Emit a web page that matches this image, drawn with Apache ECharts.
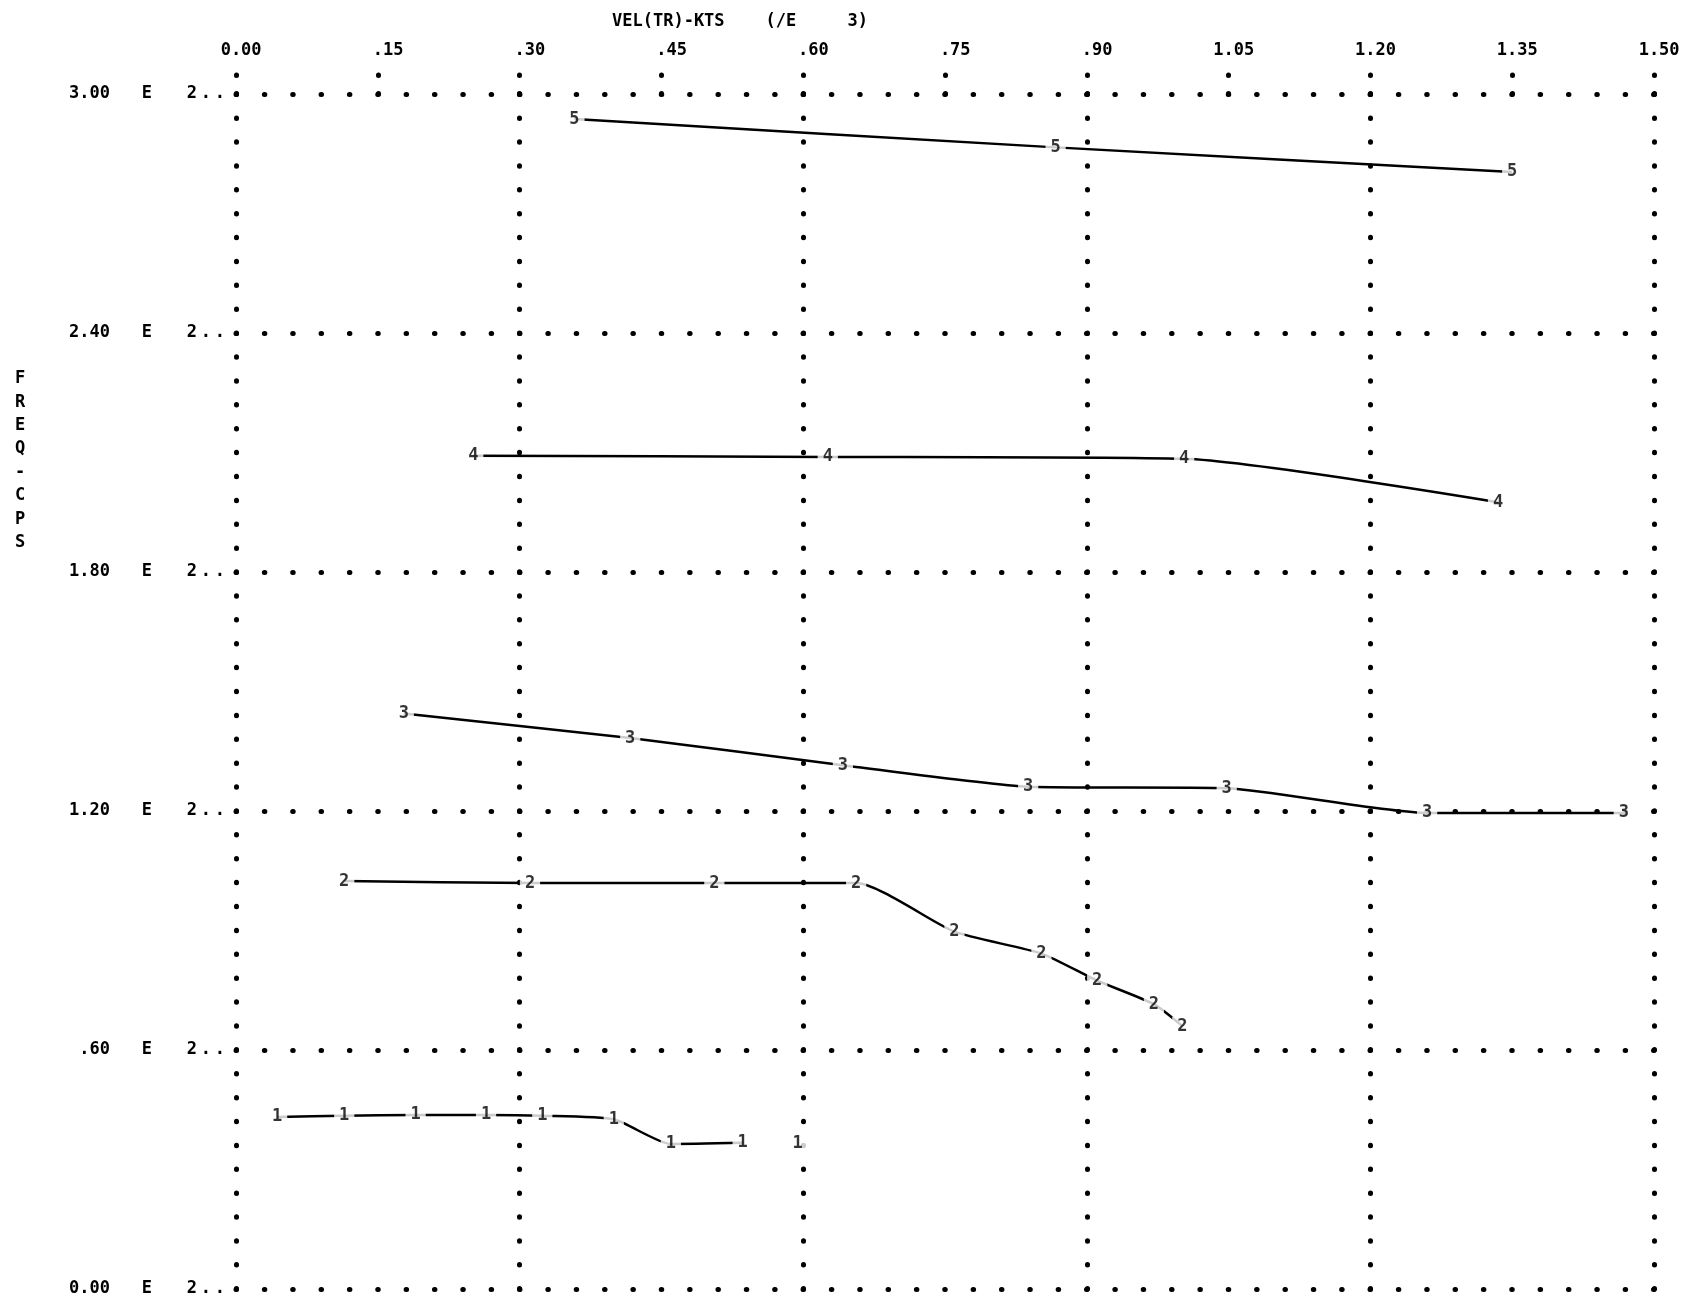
<!DOCTYPE html>
<html><head><meta charset="utf-8">
<script src="https://cdn.jsdelivr.net/npm/echarts@6/dist/echarts.min.js"></script>
<style>html,body{margin:0;padding:0;background:#fff}#c{width:1697px;height:1298px}</style>
</head><body><div id="c"></div>
<script>
// ---- tick labels / titles ----
const xTickLabels = ['0.00', '.15', '.30', '.45', '.60', '.75', '.90', '1.05', '1.20', '1.35', '1.50'];
const yTickLabels = ['0.00', '.60', '1.20', '1.80', '2.40', '3.00'];
const yExponent = '2';
const xTitle = 'VEL(TR)-KTS    (/E     3)';
const yTitle = 'FREQ-CPS';

// ---- series values (x: velocity /1000 kts, y: frequency cps) ----
const mode1X = [0.0435, 0.1145, 0.190, 0.2645, 0.324, 0.3996, 0.460, 0.536, 0.594];
const mode1Y = [43.2, 43.5, 43.7, 43.7, 43.5, 42.6, 36.4, 36.7, 36.4];
const mode1Joined = 8; // last point printed without a connecting line

const mode2X = [0.1145, 0.311, 0.506, 0.656, 0.760, 0.852, 0.911, 0.971, 1.001];
const mode2Y = [102.4, 101.9, 101.9, 101.9, 89.7, 84.2, 77.4, 71.5, 66.0];

const mode3X = [0.1775, 0.417, 0.642, 0.838, 1.048, 1.260, 1.468];
const mode3Y = [144.5, 138.3, 131.5, 126.1, 125.7, 119.5, 119.5];

const mode4X = [0.251, 0.626, 1.003, 1.335];
const mode4Y = [209.2, 208.9, 208.4, 197.5];

const mode5X = [0.358, 0.867, 1.350];
const mode5Y = [293.7, 286.6, 280.4];

const F = 'DejaVu Sans Mono';
const W = 'bold';
const zip = (xs, ys) => xs.map((x, i) => [x, ys[i]]);
const centerDot = s => {
  const i = s.indexOf('.');
  const d = (s.length - 1 - i) - i;
  return d > 0 ? ' '.repeat(d) + s : s + ' '.repeat(-d);
};

const modes = [
  { name: '1', pts: zip(mode1X, mode1Y), line: zip(mode1X, mode1Y).slice(0, mode1Joined) },
  { name: '2', pts: zip(mode2X, mode2Y), line: zip(mode2X, mode2Y) },
  { name: '3', pts: zip(mode3X, mode3Y), line: zip(mode3X, mode3Y) },
  { name: '4', pts: zip(mode4X, mode4Y), line: zip(mode4X, mode4Y) },
  { name: '5', pts: zip(mode5X, mode5Y), line: zip(mode5X, mode5Y) }
];

const series = [];
modes.forEach(m => {
  series.push({
    type: 'line', name: 'mode ' + m.name, data: m.line, xAxisIndex: 0,
    showSymbol: false, smooth: 0.2, silent: true, z: 2,
    lineStyle: { color: '#000', width: 2.5 }
  });
});
modes.forEach(m => {
  series.push({
    type: 'scatter', name: 'label ' + m.name, data: m.pts, xAxisIndex: 0,
    symbolSize: 1, itemStyle: { color: 'rgba(0,0,0,0)' }, silent: true, z: 3,
    label: {
      show: true, position: 'inside', formatter: () => m.name,
      fontFamily: F, fontWeight: W, fontSize: 17, color: '#000',
      backgroundColor: '#fff', padding: [1, 5]
    }
  });
});

const chart = echarts.init(document.getElementById('c'), null, { renderer: 'canvas' });
chart.setOption({
  animation: false,
  backgroundColor: '#fff',
  title: [
    { text: xTitle, left: 612, top: 13, padding: 0,
      textStyle: { fontFamily: F, fontSize: 17, fontWeight: W, color: '#000' } },
    { text: yTitle.split('').join('\n'), left: 15, top: 367, padding: 0,
      textStyle: { fontFamily: F, fontSize: 17, lineHeight: 23.4, fontWeight: W, color: '#000' } }
  ],
  grid: { left: 236, top: 94, width: 1418, height: 1195 },
  xAxis: [
    {
      type: 'value', position: 'top', min: 0, max: 1.5, interval: 0.15,
      axisLine: { show: false, onZero: false }, splitLine: { show: false },
      axisTick: { show: true, length: 19, lineStyle: { color: '#000', width: 5, type: [0.5, 18], cap: 'round' } },
      axisLabel: { margin: 35, fontFamily: F, fontWeight: W, fontSize: 17, color: '#000',
        formatter: v => centerDot(xTickLabels[Math.round(v / 0.15)]) }
    },
    {
      type: 'value', position: 'top', min: 0, max: 1.5, interval: 0.3,
      axisLine: { show: false, onZero: false }, axisTick: { show: false }, axisLabel: { show: false },
      splitLine: { show: true, lineStyle: { color: '#000', width: 5, type: [0.5, 23.39], cap: 'round' } }
    }
  ],
  yAxis: {
    type: 'value', min: 0, max: 300, interval: 60,
    axisLine: { show: false, onZero: false }, axisTick: { show: false },
    splitLine: { show: true, lineStyle: { color: '#000', width: 5, type: [0.5, 27.85], cap: 'round' } },
    axisLabel: {
      margin: 11, fontFamily: F, fontSize: 17, color: '#000',
      formatter: v => '{v|' + yTickLabels[Math.round(v / 60)] + '}{e|E}{t|' + yExponent + '}{d|.}{d|.}',
      rich: {
        v: { width: 40, align: 'right', fontFamily: F, fontWeight: W, fontSize: 17, color: '#000' },
        e: { width: 42, align: 'right', fontFamily: F, fontWeight: W, fontSize: 17, color: '#000' },
        t: { width: 45, align: 'right', fontFamily: F, fontWeight: W, fontSize: 17, color: '#000' },
        d: { width: 14, align: 'right', fontFamily: F, fontWeight: W, fontSize: 17, color: '#000' }
      }
    }
  },
  series: series
});
</script>
</body></html>
